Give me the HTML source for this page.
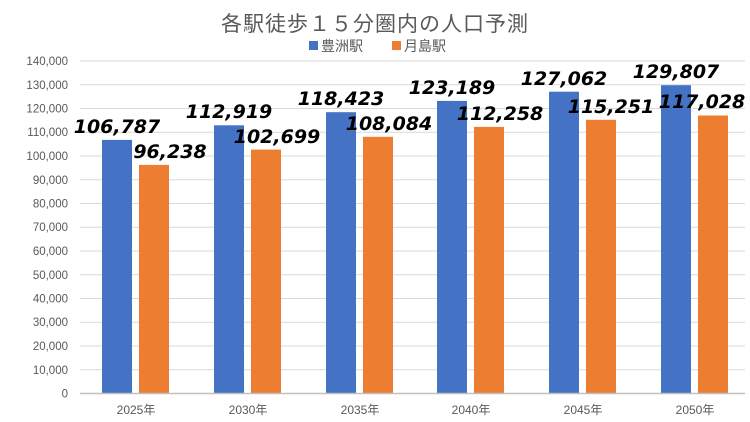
<!DOCTYPE html>
<html><head><meta charset="utf-8"><style>
body{margin:0;background:#fff;}
svg{display:block;font-family:"Liberation Sans","Noto Sans CJK JP",sans-serif;}
</style></head><body>
<svg width="750" height="422" viewBox="0 0 750 422">
<text x="375" y="31" text-anchor="middle" font-size="21" fill="#595959" letter-spacing="1">各駅徒歩１５分圏内の人口予測</text>
<rect x="309" y="41" width="9" height="9" fill="#4472C4"/>
<text x="321" y="51" font-size="14" fill="#595959">豊洲駅</text>
<rect x="392" y="41" width="9" height="9" fill="#ED7D31"/>
<text x="404" y="51" font-size="14" fill="#595959">月島駅</text>
<g stroke="#d9d9d9" stroke-width="1">
<line x1="80" x2="745" y1="61" y2="61"/><line x1="80" x2="745" y1="84.75" y2="84.75"/>
<line x1="80" x2="745" y1="108.5" y2="108.5"/><line x1="80" x2="745" y1="132.25" y2="132.25"/>
<line x1="80" x2="745" y1="156" y2="156"/><line x1="80" x2="745" y1="179.75" y2="179.75"/>
<line x1="80" x2="745" y1="203.5" y2="203.5"/><line x1="80" x2="745" y1="227.25" y2="227.25"/>
<line x1="80" x2="745" y1="251" y2="251"/><line x1="80" x2="745" y1="274.75" y2="274.75"/>
<line x1="80" x2="745" y1="298.5" y2="298.5"/><line x1="80" x2="745" y1="322.25" y2="322.25"/>
<line x1="80" x2="745" y1="346" y2="346"/><line x1="80" x2="745" y1="369.75" y2="369.75"/>
</g>
<g font-size="11.5" fill="#595959" text-anchor="end">
<text x="68" y="65">140,000</text><text x="68" y="89">130,000</text><text x="68" y="112.5">120,000</text>
<text x="68" y="136">110,000</text><text x="68" y="160">100,000</text><text x="68" y="184">90,000</text>
<text x="68" y="207.5">80,000</text><text x="68" y="231">70,000</text><text x="68" y="255">60,000</text>
<text x="68" y="279">50,000</text><text x="68" y="302.5">40,000</text><text x="68" y="326">30,000</text>
<text x="68" y="350">20,000</text><text x="68" y="374">10,000</text><text x="68" y="397.5">0</text>
</g>
<g>
<rect x="102" y="139.9" width="30" height="253.6" fill="#4472C4"/><rect x="139" y="164.9" width="30" height="228.6" fill="#ED7D31"/>
<rect x="214" y="125.3" width="30" height="268.2" fill="#4472C4"/><rect x="251" y="149.6" width="30" height="243.9" fill="#ED7D31"/>
<rect x="326" y="112.2" width="30" height="281.3" fill="#4472C4"/><rect x="363" y="136.8" width="30" height="256.7" fill="#ED7D31"/>
<rect x="437" y="100.9" width="30" height="292.6" fill="#4472C4"/><rect x="474" y="126.9" width="30" height="266.6" fill="#ED7D31"/>
<rect x="549" y="91.7" width="30" height="301.8" fill="#4472C4"/><rect x="586" y="119.8" width="30" height="273.7" fill="#ED7D31"/>
<rect x="661" y="85.2" width="30" height="308.3" fill="#4472C4"/><rect x="698" y="115.5" width="30" height="278" fill="#ED7D31"/>
</g>
<line x1="80" x2="745" y1="393.5" y2="393.5" stroke="#bfbfbf" stroke-width="1.5"/>
<g font-family="'DejaVu Sans',sans-serif" font-size="19" font-weight="bold" font-style="italic" fill="#000" text-anchor="middle">
<text x="117" y="133">106,787</text><text x="170" y="158">96,238</text>
<text x="229" y="118">112,919</text><text x="277" y="143">102,699</text>
<text x="341" y="105">118,423</text><text x="389" y="130">108,084</text>
<text x="452" y="94">123,189</text><text x="500" y="120">112,258</text>
<text x="564" y="85">127,062</text><text x="611" y="113">115,251</text>
<text x="676" y="78">129,807</text><text x="702" y="108">117,028</text>
</g>
<g font-size="12" fill="#595959" text-anchor="middle">
<text x="136" y="414">2025年</text><text x="248" y="414">2030年</text><text x="360" y="414">2035年</text>
<text x="471" y="414">2040年</text><text x="583" y="414">2045年</text><text x="695" y="414">2050年</text>
</g>
</svg>
</body></html>
